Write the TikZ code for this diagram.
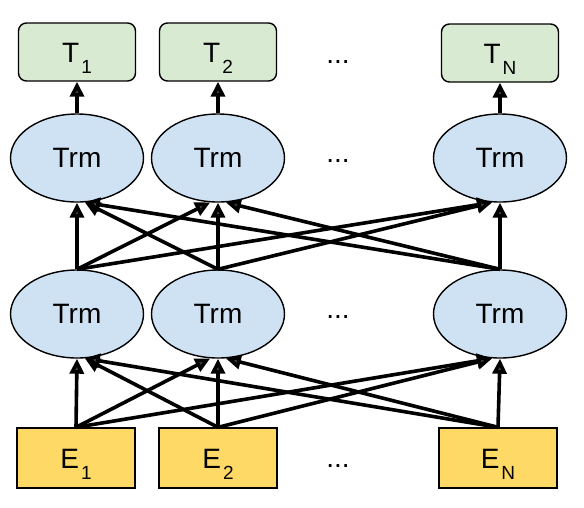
\documentclass[tikz,border=0pt]{standalone}
\usepackage{fontspec}
\setmainfont{Liberation Sans}
\usetikzlibrary{arrows.meta,shapes.geometric}
\definecolor{outgreen}{HTML}{D9EAD3}
\definecolor{trmblue}{HTML}{CFE2F3}
\definecolor{embyellow}{HTML}{FFD966}
\newcommand{\lowidx}[1]{\kern2pt\raisebox{-11pt}{\fontsize{19}{19}\selectfont #1}}
\begin{document}
\begin{tikzpicture}[x = 1pt, y = -1pt, font = \fontsize{28}{28}\selectfont,
        outbox/.style = {draw, line width = 1.4pt, rounded corners = 8pt, fill = outgreen, minimum width = 117pt, minimum height = 58pt, inner sep = 0pt, text height = 20pt, text depth = 0pt},
        embbox/.style = {draw, line width = 1.4pt, fill = embyellow, minimum width = 118pt, minimum height = 60pt, inner sep = 0pt, text height = 20pt, text depth = 0pt},
        trm/.style = {draw, ellipse, line width = 1.4pt, fill = trmblue, minimum width = 133pt, minimum height = 88pt, inner sep = 0pt},
        link/.style = {line width = 3.6pt, -{Triangle[open, length = 15pt, width = 14pt, fill = darkgray]}}]
            \useasboundingbox (0, 0) rectangle (584, 507);
            \node [outbox] (t1) at (77, 52) {T\lowidx{1}};
            \node [outbox] (t2) at (218, 52) {T\lowidx{2}};
            \node [outbox] (tn) at (500, 53) {T\lowidx{N}};
            \node [trm] (u1) at (77, 158) {Trm};
            \node [trm] (u2) at (218, 158) {Trm};
            \node [trm] (un) at (500, 158) {Trm};
            \node [trm] (l1) at (77, 314) {Trm};
            \node [trm] (l2) at (218, 314) {Trm};
            \node [trm] (ln) at (500, 314) {Trm};
            \node [embbox] (e1) at (76, 458) {E\lowidx{1}};
            \node [embbox] (e2) at (218, 458) {E\lowidx{2}};
            \node [embbox] (en) at (498, 458) {E\lowidx{N}};
            \node [anchor = base] (dt) at (338, 63) {...};
            \node [anchor = base] (du) at (338, 162) {...};
            \node [anchor = base] (dl) at (338, 318) {...};
            \node [anchor = base] (de) at (338, 467) {...};

            \draw [link] (e1.north) -- (l1.south);
            \draw [link] (e1.north) -- (l2.-100);
            \draw [link] (e1.north) -- (ln.-100);
            \draw [link] (e2.north) -- (l1.-80);
            \draw [link] (e2.north) -- (l2.south);
            \draw [link] (e2.north) -- (ln.-100);
            \draw [link] (en.north) -- (l1.-80);
            \draw [link] (en.north) -- (l2.-80);
            \draw [link] (en.north) -- (ln.south);

            \draw [link] (l1.north) -- (u1.south);
            \draw [link] (l1.north) -- (u2.-100);
            \draw [link] (l1.north) -- (un.-100);
            \draw [link] (l2.north) -- (u1.-80);
            \draw [link] (l2.north) -- (u2.south);
            \draw [link] (l2.north) -- (un.-100);
            \draw [link] (ln.north) -- (u1.-80);
            \draw [link] (ln.north) -- (u2.-80);
            \draw [link] (ln.north) -- (un.south);

            \draw [link] (u1.north) -- (t1.south);
            \draw [link] (u2.north) -- (t2.south);
            \draw [link] (un.north) -- (tn.south);
        \end{tikzpicture}
\end{document}
